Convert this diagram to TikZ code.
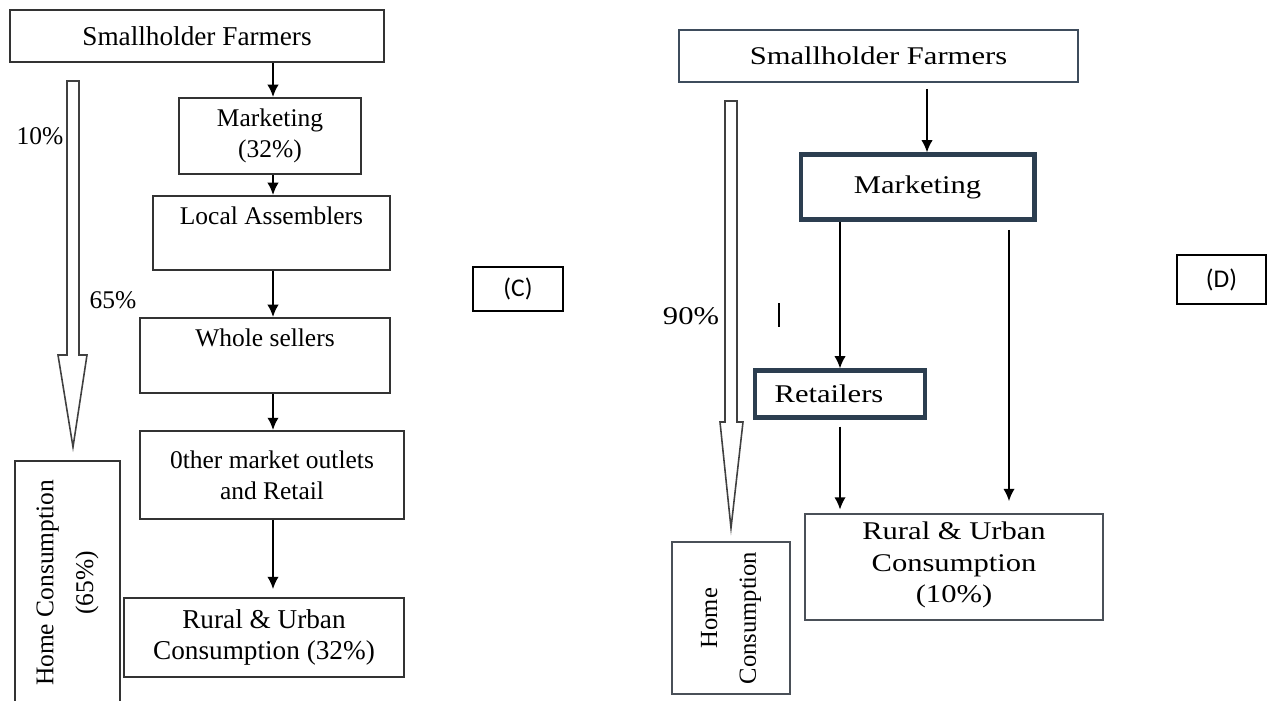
\documentclass[tikz,border=0pt]{standalone}
\usepackage{fontspec}
\setmainfont{Liberation Serif}
\newfontfamily\wideserif[FakeStretch=1.2]{Liberation Serif}
\newfontfamily\tagfont{Carlito}
\usepackage{tikz}
\usetikzlibrary{arrows.meta}

\definecolor{slateD}{HTML}{3E4C5C}
\definecolor{navyD}{HTML}{2C3E50}
\definecolor{greyD}{HTML}{4A5058}

\tikzset{
	boxC/.style={draw=black!80,line width=1.1pt,align=center,inner sep=0pt,font=\fontsize{14.5}{17.6}\selectfont},
	boxD/.style={draw=slateD,line width=1pt,align=center,inner sep=0pt,font=\wideserif\fontsize{14.5}{18}\selectfont},
	thickD/.style={boxD,draw=navyD,line width=2.3pt},
	flow/.style={->,>={Latex[length=7pt,width=6.5pt]},line width=1.1pt},
	hollow/.style={draw=black!75,line width=0.9pt,fill=white},
	pct/.style={inner sep=0pt,font=\fontsize{14.5}{17}\selectfont},
	tagbox/.style={draw,line width=1.1pt,inner sep=0pt,font=\tagfont\fontsize{14.5}{17}\selectfont}
}

\begin{document}
\begin{tikzpicture}[x=0.02cm,y=-0.02cm]
	\useasboundingbox (0,0) rectangle (1271,700);
	% (C)
	\node[boxC,minimum width=7.48cm,minimum height=1.04cm,font=\fontsize{15.5}{18}\selectfont] (smC) at (197,36) {Smallholder Farmers};
	\node[boxC,minimum width=3.64cm,minimum height=1.52cm] (mkC) at (270,136) {Marketing\\(32\%)};
	\node[boxC,minimum width=4.74cm,minimum height=1.48cm,text depth=20pt] (laC) at (271.5,233) {Local Assemblers};
	\node[boxC,minimum width=5cm,minimum height=1.5cm,text depth=20pt] (wsC) at (265,355.5) {Whole sellers};
	\node[boxC,minimum width=5.28cm,minimum height=1.76cm] (omC) at (272,475) {0ther market outlets\\and Retail};
	\node[boxC,minimum width=5.6cm,minimum height=1.58cm,font=\fontsize{15.5}{18}\selectfont] (ruC) at (264,637.5) {Rural \& Urban\\Consumption (32\%)};
	\node[boxC,rotate=90,minimum width=4.88cm,minimum height=2.1cm] (hcC) at (67.5,583) {Home Consumption\\[5pt](65\%)};
	\coordinate (axC) at (273,0);
		\draw[flow] (smC.south -| axC) -- (mkC.north -| axC);
		\draw[flow] (mkC.south -| axC) -- (laC.north -| axC);
		\draw[flow] (laC.south -| axC) -- (wsC.north -| axC);
		\draw[flow] (wsC.south -| axC) -- (omC.north -| axC);
		\draw[flow,shorten >=4.5pt] (omC.south -| axC) -- (ruC.north -| axC);
	\draw[hollow] (67,81) -- (79,81) -- (79,355) -- (87,355) -- (73,447) -- (58,355) -- (67,355) -- cycle;
	\node[pct] (p10) at (40,136) {10\%};
	\node[pct] (p65) at (113,300) {65\%};
	\node[tagbox,minimum width=1.8cm,minimum height=0.88cm] (tagC) at (518,289) {(C)};
	%
	% (D)
	\node[boxD,minimum width=7.98cm,minimum height=1.04cm] (smD) at (878.5,56) {Smallholder Farmers};
	\node[thickD,minimum width=4.68cm,minimum height=1.3cm] (mkD) at (917.5,187) {Marketing};
	\node[thickD,minimum width=3.39cm,minimum height=0.94cm] (reD) at (840,394) {Retailers\hspace*{0.44cm}};
	\node[boxD,draw=greyD,minimum width=5.96cm,minimum height=2.12cm,text height=44pt] (ruD) at (954,567) {Rural \& Urban\\Consumption\\(10\%)};
	\node[boxD,draw=greyD,rotate=90,minimum width=3.04cm,minimum height=2.36cm,font=\fontsize{14}{17}\selectfont] (hcD) at (731,618) {Home\\[5pt]Consumption};
	\coordinate (axD) at (927,0);
	\coordinate (spD) at (1009,0);
		\draw[flow,shorten <=3.4pt] (smD.south -| axD) -- (mkD.north -| axD);
		\draw[flow] (mkD.south -| reD) -- (reD.north);
		\draw[flow,shorten <=4pt,shorten >=2pt] (reD.south) -- (reD.south |- ruD.north);
		\draw[flow,shorten <=4.8pt,shorten >=6.8pt] (mkD.south -| spD) -- (ruD.north -| spD);
	\draw[hollow] (725,101) -- (737,101) -- (737,422) -- (743,422) -- (731,528) -- (720,422) -- (725,422) -- cycle;
	\node[pct,font=\wideserif\fontsize{14.5}{17}\selectfont] (p90) at (691,316) {90\%};
	\draw[line width=0.8pt] (779,303) -- (779,327);
	\node[tagbox,minimum width=1.78cm,minimum height=0.98cm] (tagD) at (1221.5,279.5) {(D)};
\end{tikzpicture}
\end{document}
